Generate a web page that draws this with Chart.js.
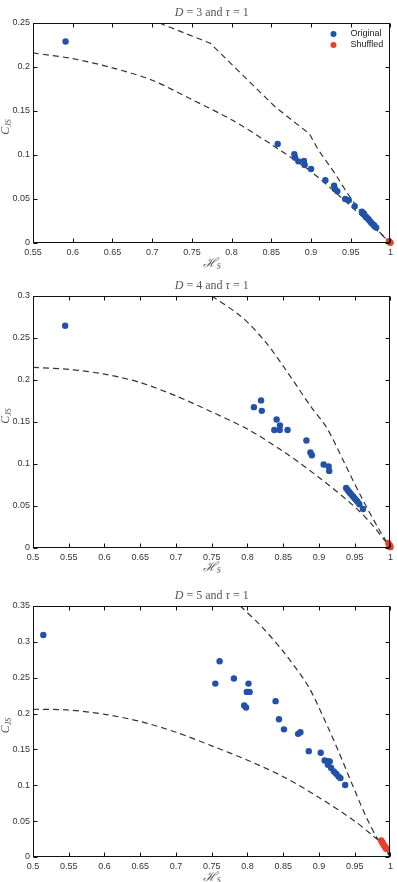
<!DOCTYPE html>
<html>
<head>
<meta charset="utf-8">
<script src="https://cdn.jsdelivr.net/npm/chart.js@4.4.1/dist/chart.umd.min.js"></script>
<style>
  html, body { margin: 0; padding: 0; background: #fff; }
  body { width: 397px; height: 882px; position: relative; overflow: hidden; }
  .box { position: absolute; left: 0; width: 397px; }
</style>
</head>
<body>
<div class="box" style="top:0;height:275px"><canvas id="c1"></canvas></div>
<div class="box" style="top:275px;height:305px"><canvas id="c2"></canvas></div>
<div class="box" style="top:580px;height:302px"><canvas id="c3"></canvas></div>
<script>
// ---- D = 3 ----
const origX1 = [0.591, 0.858, 0.879, 0.880, 0.884, 0.891, 0.892, 0.900, 0.918, 0.929, 0.930, 0.933, 0.943, 0.9475, 0.955, 0.964, 0.966, 0.967, 0.969, 0.970, 0.972, 0.973, 0.975, 0.977, 0.979, 0.980, 0.982];
const origY1 = [0.229, 0.1125, 0.1008, 0.097, 0.0928, 0.0932, 0.0886, 0.0841, 0.0713, 0.0652, 0.0614, 0.0588, 0.050, 0.0485, 0.0417, 0.0357, 0.034, 0.0326, 0.0295, 0.029, 0.0273, 0.026, 0.0239, 0.022, 0.0205, 0.019, 0.0175];
const shufX1 = [0.998, 0.999, 0.9995, 1.0];
const shufY1 = [0.002, 0.0012, 0.0006, 0.0002];
const minX1 = [0.55, 0.6, 0.65, 0.7, 0.75, 0.8, 0.85, 0.9, 0.95, 0.975, 1];
const minY1 = [0.216, 0.2095, 0.199, 0.185, 0.163, 0.14, 0.112, 0.081, 0.042, 0.021, 0];
const maxX1 = [0.709, 0.773, 0.855, 0.898, 0.909, 0.93, 0.946, 0.963, 0.984, 1];
const maxY1 = [0.25, 0.227, 0.1545, 0.124, 0.106, 0.079, 0.056, 0.035, 0.0144, 0];
const xTicks1 = [0.55, 0.6, 0.65, 0.7, 0.75, 0.8, 0.85, 0.9, 0.95, 1];
const yTicks1 = [0, 0.05, 0.1, 0.15, 0.2, 0.25];

// ---- D = 4 ----
const origX2 = [0.545, 0.809, 0.819, 0.820, 0.8407, 0.8454, 0.8375, 0.845, 0.856, 0.8824, 0.888, 0.890, 0.9065, 0.9135, 0.9143, 0.938, 0.940, 0.942, 0.944, 0.946, 0.948, 0.950, 0.952, 0.954, 0.9565, 0.9615];
const origY2 = [0.2646, 0.1677, 0.1757, 0.1633, 0.153, 0.1459, 0.1405, 0.1405, 0.1405, 0.128, 0.1137, 0.1105, 0.0994, 0.097, 0.0918, 0.0715, 0.069, 0.067, 0.065, 0.063, 0.061, 0.059, 0.057, 0.055, 0.052, 0.0465];
const shufX2 = [0.997, 0.998, 0.999, 0.9995, 1.0];
const shufY2 = [0.006, 0.004, 0.003, 0.002, 0.001];
const minX2 = [0.5, 0.55, 0.6, 0.65, 0.7, 0.75, 0.8, 0.85, 0.9, 0.95, 0.975, 1];
const minY2 = [0.215, 0.2126, 0.207, 0.197, 0.181, 0.162, 0.1415, 0.115, 0.084, 0.049, 0.027, 0];
const maxX2 = [0.75, 0.792, 0.825, 0.852, 0.889, 0.911, 0.936, 0.959, 0.982, 1];
const maxY2 = [0.3, 0.275, 0.2455, 0.214, 0.168, 0.143, 0.1006, 0.061, 0.025, 0];
const xTicks2 = [0.5, 0.55, 0.6, 0.65, 0.7, 0.75, 0.8, 0.85, 0.9, 0.95, 1];
const yTicks2 = [0, 0.05, 0.1, 0.15, 0.2, 0.25, 0.3];

// ---- D = 5 ----
const origX3 = [0.5144, 0.761, 0.755, 0.781, 0.8014, 0.799, 0.803, 0.7954, 0.798, 0.8393, 0.844, 0.851, 0.8708, 0.874, 0.8857, 0.9024, 0.9079, 0.912, 0.915, 0.9125, 0.917, 0.9208, 0.924, 0.9273, 0.930, 0.9366];
const origY3 = [0.3096, 0.273, 0.2418, 0.2488, 0.2418, 0.2302, 0.2302, 0.2112, 0.2084, 0.2173, 0.192, 0.178, 0.1717, 0.174, 0.1476, 0.1453, 0.1346, 0.1335, 0.1332, 0.1286, 0.124, 0.1193, 0.116, 0.1123, 0.110, 0.1005];
const shufX3 = [0.987, 0.988, 0.989, 0.99, 0.991, 0.992, 0.993, 0.994, 0.995];
const shufY3 = [0.023, 0.021, 0.02, 0.018, 0.016, 0.015, 0.013, 0.012, 0.011];
const minX3 = [0.5, 0.55, 0.6, 0.65, 0.7, 0.75, 0.8, 0.85, 0.9, 0.95, 0.975, 0.99, 1];
const minY3 = [0.206, 0.205, 0.199, 0.189, 0.174, 0.155, 0.135, 0.112, 0.083, 0.05, 0.03, 0.017, 0];
const maxX3 = [0.79, 0.82, 0.852, 0.885, 0.907, 0.927, 0.947, 0.965, 0.982, 1];
const maxY3 = [0.35, 0.321, 0.284, 0.238, 0.193, 0.148, 0.1, 0.058, 0.025, 0];
const xTicks3 = [0.5, 0.55, 0.6, 0.65, 0.7, 0.75, 0.8, 0.85, 0.9, 0.95, 1];
const yTicks3 = [0, 0.05, 0.1, 0.15, 0.2, 0.25, 0.3, 0.35];

const BLUE = '#2152a8';
const RED = '#e8402a';
const pts = (xs, ys) => xs.map((x, i) => ({ x: x, y: ys[i] }));
const fmt = v => String(Number(v.toFixed(2)));

// draws a run of text pieces with different fonts, centred on (cx, cy)
function rich(ctx, parts, cx, cy) {
  let w = 0;
  parts.forEach(p => { ctx.font = p.font; w += ctx.measureText(p.t).width; });
  let x = cx - w / 2;
  ctx.textBaseline = 'middle';
  ctx.textAlign = 'left';
  parts.forEach(p => {
    ctx.font = p.font;
    ctx.fillText(p.t, x, cy + (p.dy || 0));
    x += ctx.measureText(p.t).width;
  });
}

const matlabBox = {
  id: 'matlabBox',
  afterDraw(chart, args, o) {
    const { ctx, chartArea: a, scales: { x, y } } = chart;
    const L = Math.round(a.left) + 0.5, R = Math.round(a.right) - 0.5;
    const T = Math.round(a.top) + 0.5, B = Math.round(a.bottom) - 0.5;
    ctx.save();
    ctx.strokeStyle = '#111';
    ctx.lineWidth = 1;
    ctx.strokeRect(L, T, R - L, B - T);
    ctx.beginPath();
    x.ticks.forEach(t => {
      const px = Math.round(x.getPixelForValue(t.value)) + 0.5;
      ctx.moveTo(px, B); ctx.lineTo(px, B - 4);
      ctx.moveTo(px, T); ctx.lineTo(px, T + 4);
    });
    y.ticks.forEach(t => {
      const py = Math.round(y.getPixelForValue(t.value)) + 0.5;
      ctx.moveTo(L, py); ctx.lineTo(L + 4, py);
      ctx.moveTo(R, py); ctx.lineTo(R - 4, py);
    });
    ctx.stroke();

    // title
    ctx.fillStyle = '#555';
    const serif = 'px "Liberation Serif", "DejaVu Serif", serif';
    rich(ctx, [
      { t: 'D', font: 'italic 12' + serif },
      { t: ' = ' + o.d + ' and ', font: '12' + serif },
      { t: 'τ', font: 'italic 12' + serif },
      { t: ' = 1', font: '12' + serif }
    ], (a.left + a.right) / 2, a.top - 10);

    // x label
    rich(ctx, [
      { t: 'ℋ', font: 'italic 13px "DejaVu Serif", serif' },
      { t: 'S', font: 'italic 8' + serif, dy: 3 }
    ], (a.left + a.right) / 2, a.bottom + o.xl);

    // y label
    ctx.save();
    ctx.translate(6, (a.top + a.bottom) / 2 - 6);
    ctx.rotate(-Math.PI / 2);
    rich(ctx, [
      { t: 'C', font: 'italic 12' + serif },
      { t: 'JS', font: 'italic 8' + serif, dy: 3 }
    ], 0, 0);
    ctx.restore();

    // legend
    if (o.legend) {
      ctx.font = '9px "Liberation Sans", Arial, sans-serif';
      ctx.textBaseline = 'middle';
      ctx.textAlign = 'left';
      [0, 1].forEach((k, i) => {
        const ds = chart.data.datasets[k];
        const yy = a.top + 11 + i * 11;
        ctx.fillStyle = ds.backgroundColor;
        ctx.beginPath();
        ctx.arc(a.right - 57, yy, 3, 0, Math.PI * 2);
        ctx.fill();
        ctx.fillStyle = '#222';
        ctx.fillText(ds.label, a.right - 40, yy);
      });
    }
    ctx.restore();
  }
};

function makeChart(id, d, orig, shuf, minC, maxC, xt, yt, pad, xh, xl, legend, maxTension) {
  return new Chart(document.getElementById(id), {
    type: 'scatter',
    data: {
      datasets: [
        { label: 'Original', data: orig, backgroundColor: BLUE, borderWidth: 0, pointRadius: 3.2, clip: false },
        { label: 'Shuffled', data: shuf, backgroundColor: RED, borderWidth: 0, pointRadius: 3.2, clip: false },
        { label: 'min', data: minC, showLine: true, pointRadius: 0, borderColor: '#333', borderWidth: 1.2,
          borderDash: [6, 4], tension: 0.3, fill: false },
        { label: 'max', data: maxC, showLine: true, pointRadius: 0, borderColor: '#333', borderWidth: 1.2,
          borderDash: [6, 4], tension: maxTension, fill: false }
      ]
    },
    options: {
      responsive: true,
      maintainAspectRatio: false,
      animation: false,
      events: [],
      layout: { padding: { top: pad, right: 3, left: 0, bottom: 0 } },
      scales: {
        x: {
          type: 'linear', min: xt[0], max: xt[xt.length - 1],
          afterBuildTicks: s => { s.ticks = xt.map(v => ({ value: v })); },
          afterFit: s => { s.height = xh; },
          grid: { display: false, drawTicks: false },
          border: { display: false },
          ticks: { callback: fmt, padding: 4, maxRotation: 0, autoSkip: false, color: '#333',
                   font: { family: '"Liberation Sans", Arial, sans-serif', size: 9 } }
        },
        y: {
          type: 'linear', min: yt[0], max: yt[yt.length - 1],
          afterBuildTicks: s => { s.ticks = yt.map(v => ({ value: v })); },
          afterFit: s => { s.width = 33; },
          grid: { display: false, drawTicks: false },
          border: { display: false },
          ticks: { callback: fmt, padding: 3, autoSkip: false, color: '#333',
                   font: { family: '"Liberation Sans", Arial, sans-serif', size: 9 } }
        }
      },
      plugins: {
        legend: { display: false },
        tooltip: { enabled: false },
        matlabBox: { d: d, xl: xl, legend: legend }
      }
    },
    plugins: [matlabBox]
  });
}

makeChart('c1', 3, pts(origX1, origY1), pts(shufX1, shufY1), pts(minX1, minY1), pts(maxX1, maxY1),
  xTicks1, yTicks1, 23, 32, 21, true, 0);
makeChart('c2', 4, pts(origX2, origY2), pts(shufX2, shufY2), pts(minX2, minY2), pts(maxX2, maxY2),
  xTicks2, yTicks2, 21, 32, 20, false, 0.3);
makeChart('c3', 5, pts(origX3, origY3), pts(shufX3, shufY3), pts(minX3, minY3), pts(maxX3, maxY3),
  xTicks3, yTicks3, 26, 25, 21, false, 0.3);
</script>
</body>
</html>
